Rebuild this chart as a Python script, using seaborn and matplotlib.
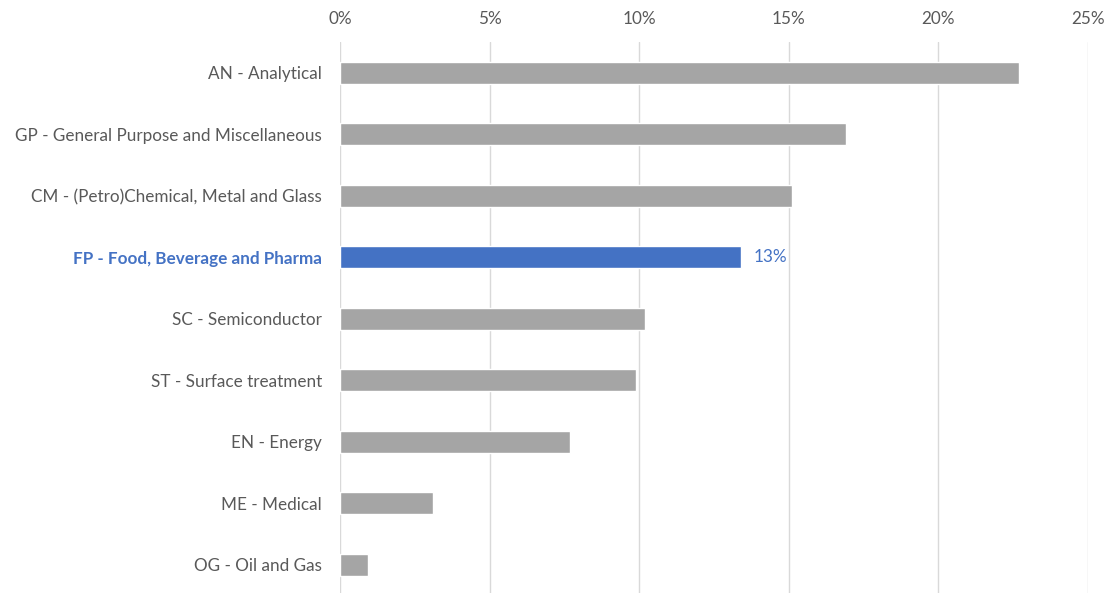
import pandas as pd
import seaborn as sns
import matplotlib.pyplot as plt
from matplotlib.ticker import PercentFormatter

categories = [
    "AN - Analytical",
    "GP - General Purpose and Miscellaneous",
    "CM - (Petro)Chemical, Metal and Glass",
    "FP - Food, Beverage and Pharma",
    "SC - Semiconductor",
    "ST - Surface treatment",
    "EN - Energy",
    "ME - Medical",
    "OG - Oil and Gas",
]
shares = [0.227, 0.169, 0.151, 0.134, 0.102, 0.099, 0.077, 0.031, 0.0094]
highlight = "FP - Food, Beverage and Pharma"

df = pd.DataFrame({"segment": categories, "share": shares})

grey = "#A5A5A5"
blue = "#4472C4"
text_col = "#595959"
palette = {c: (blue if c == highlight else grey) for c in categories}

sns.set_style("white")
plt.rcParams["font.family"] = ["Lato", "DejaVu Sans"]

fig = plt.figure(figsize=(11.07, 5.93), dpi=100)
ax = fig.add_axes([340 / 1107, 0.0, (1088 - 340) / 1107, 551 / 593])

sns.barplot(data=df, x="share", y="segment", hue="segment", palette=palette,
            width=0.36, saturation=1, legend=False, ax=ax, zorder=3)

ax.set_xlim(0, 0.25)
ax.set_ylim(8.46, -0.5)
ax.xaxis.set_major_formatter(PercentFormatter(1.0, decimals=0))
ax.xaxis.tick_top()
ax.set_xticks([0, 0.05, 0.10, 0.15, 0.20, 0.25])
ax.grid(axis="x", color="#D9D9D9", linewidth=1, zorder=0)
ax.set_axisbelow(True)
for s in ax.spines.values():
    s.set_visible(False)
ax.tick_params(axis="both", length=0, labelsize=12.3, colors=text_col)
ax.tick_params(axis="x", pad=11)
ax.tick_params(axis="y", pad=13)
ax.set_xlabel("")
ax.set_ylabel("")

for lbl in ax.get_yticklabels():
    if lbl.get_text() == highlight:
        lbl.set_color(blue)
        lbl.set_fontweight("bold")

i = categories.index(highlight)
ax.annotate(f"{shares[i]:.0%}", xy=(shares[i], i), xytext=(9, 0),
            textcoords="offset points", va="center", ha="left",
            color=blue, fontsize=12.3)

fig.savefig("out.png", dpi=100)
